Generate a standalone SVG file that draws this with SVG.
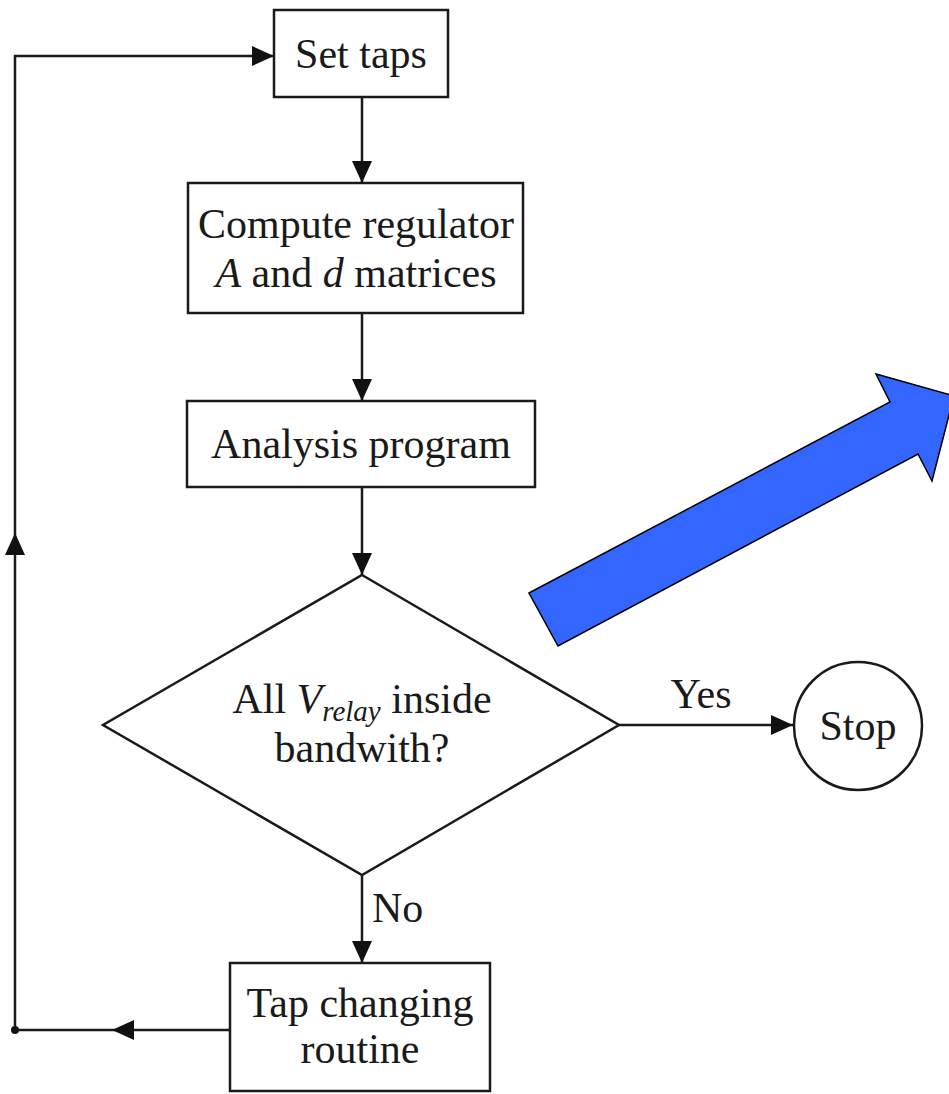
<svg xmlns="http://www.w3.org/2000/svg" width="949" height="1094" viewBox="0 0 949 1094">
<style>
.box{fill:#fff;stroke:#1a1a1a;stroke-width:2.5}
.ln{fill:none;stroke:#1a1a1a;stroke-width:2.5}
.t{font-family:"Liberation Serif",serif;font-size:42px;fill:#1a1a1a;text-anchor:middle}
.i{font-style:italic}
</style>
<defs>
<marker id="ah" markerUnits="userSpaceOnUse" markerWidth="22" markerHeight="20" refX="22" refY="10" orient="auto" viewBox="0 0 22 20">
<path d="M0,0 L22,10 L0,20 z" fill="#111"/>
</marker>
</defs>
<rect width="949" height="1094" fill="#fff"/>
<g id="connectors">
<path class="ln" d="M362,97 V183" marker-end="url(#ah)"/>
<path class="ln" d="M362,313 V401" marker-end="url(#ah)"/>
<path class="ln" d="M362,487 V575" marker-end="url(#ah)"/>
<path class="ln" d="M619,725 H793" marker-end="url(#ah)"/>
<path class="ln" d="M362,875 V963" marker-end="url(#ah)"/>
<path class="ln" d="M230,1030 H112" marker-end="url(#ah)"/>
<path class="ln" d="M112,1030 H15 V533" marker-end="url(#ah)"/>
<path class="ln" d="M15,533 V56 H274" marker-end="url(#ah)"/>
<circle cx="15" cy="1030" r="4" fill="#111"/>
<text class="t" x="701" y="708">Yes</text>
<text class="t" x="372" y="922" style="text-anchor:start">No</text>
</g>
<g id="set-taps">
<rect class="box" x="274" y="10" width="174" height="87"/>
<text class="t" x="361" y="68">Set taps</text>
</g>
<g id="compute">
<rect class="box" x="188" y="183" width="335" height="130"/>
<text class="t" x="356" y="238">Compute regulator</text>
<text class="t" x="356" y="287"><tspan class="i">A</tspan> and <tspan class="i">d</tspan> matrices</text>
</g>
<g id="analysis">
<rect class="box" x="187" y="401" width="348" height="86"/>
<text class="t" x="361" y="458">Analysis program</text>
</g>
<g id="decision">
<path class="box" d="M362,575 L619,725 L362,875 L103,725 z"/>
<text class="t" x="362" y="713">All <tspan class="i">V</tspan><tspan class="i" font-size="29" dy="8">relay</tspan><tspan dy="-8"> inside</tspan></text>
<text class="t" x="362" y="762">bandwith?</text>
</g>
<g id="stop">
<circle class="box" cx="858" cy="726" r="64"/>
<text class="t" x="858" y="740">Stop</text>
</g>
<g id="tap-changing">
<rect class="box" x="230" y="963" width="260" height="128"/>
<text class="t" x="360" y="1017">Tap changing</text>
<text class="t" x="360" y="1063">routine</text>
</g>
<g id="blue-arrow">
<polygon points="529,593 890,402 876,374 954,396 932,481 918,454 558,646" fill="#3366ff" stroke="#000" stroke-width="1.5" stroke-linejoin="miter"/>
</g>
</svg>
